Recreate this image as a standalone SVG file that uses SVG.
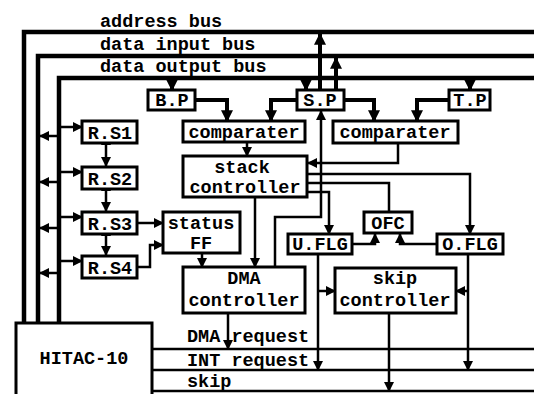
<svg xmlns="http://www.w3.org/2000/svg" width="534" height="394" viewBox="0 0 534 394">
<style>
.box{fill:#fff;stroke:#000;stroke-width:3}
.t{font-family:"Liberation Mono",monospace;font-weight:bold;font-size:18.5px;fill:#000}
.c{text-anchor:middle}
.bus{fill:none;stroke:#000;stroke-width:4.5}
.thk{fill:none;stroke:#000;stroke-width:4}
.thn{fill:none;stroke:#000;stroke-width:2.5}
</style>
<defs>
<marker id="a" viewBox="0 0 10 10" refX="9" refY="5" markerWidth="10" markerHeight="10" markerUnits="userSpaceOnUse" orient="auto"><path d="M0,0 L10,5 L0,10 Z" fill="#000"/></marker>
<marker id="as" viewBox="0 0 10 10" refX="1" refY="5" markerWidth="10" markerHeight="10" markerUnits="userSpaceOnUse" orient="auto-start-reverse"><path d="M0,0 L10,5 L0,10 Z" fill="#000"/></marker>
<marker id="ab" viewBox="0 0 10 10" refX="9" refY="5" markerWidth="12" markerHeight="12" markerUnits="userSpaceOnUse" orient="auto"><path d="M0,0 L10,5 L0,10 Z" fill="#000"/></marker>
</defs>
<rect width="534" height="394" fill="#fff"/>
<g id="labels">
<text class="t" x="100" y="27">address bus</text>
<text class="t" x="100" y="50">data input bus</text>
<text class="t" x="100" y="72">data output bus</text>
<text class="t" x="187" y="342">DMA request</text>
<text class="t" x="187" y="366">INT request</text>
<text class="t" x="187" y="387">skip</text>
</g>
<g id="connectors">
<path class="bus" d="M24,323 V32 H534"/>
<path class="bus" d="M38,323 V56 H534"/>
<path class="bus" d="M59,323 V78 H534"/>
<path class="thk" d="M172,78 V90" marker-end="url(#ab)"/>
<path class="thk" d="M306,78 V90" marker-end="url(#ab)"/>
<path class="thk" d="M470,78 V90" marker-end="url(#ab)"/>
<path class="thk" d="M320,90 V34" marker-end="url(#ab)"/>
<path class="thk" d="M336,90 V58" marker-end="url(#ab)"/>
<path class="thk" d="M195,100 H227 V121" marker-end="url(#ab)"/>
<path class="thk" d="M297,100 H271 V121" marker-end="url(#ab)"/>
<path class="thk" d="M344,100 H374 V121" marker-end="url(#ab)"/>
<path class="thk" d="M449,100 H417 V121" marker-end="url(#ab)"/>
<path class="thn" d="M247,142 V156" marker-end="url(#a)"/>
<path class="thn" d="M398,143 V163 H308" marker-end="url(#a)"/>
<path class="thn" d="M308,174 H470 V234" marker-end="url(#a)"/>
<path class="thn" d="M308,183 H389 V212"/>
<path class="thn" d="M308,192 H329 V234" marker-end="url(#a)"/>
<path class="thn" d="M275,267 V217 H321 V111" marker-end="url(#a)"/>
<path class="thn" d="M255,197 V267" marker-end="url(#a)"/>
<path class="thn" d="M202,253 V267" marker-end="url(#a)"/>
<path class="thn" d="M352,244 H375 V234" marker-end="url(#a)"/>
<path class="thn" d="M437,244 H400 V234" marker-end="url(#a)"/>
<path class="thn" d="M318,254 V370" marker-end="url(#a)"/>
<path class="thn" d="M318,291 H335" marker-end="url(#a)"/>
<path class="thn" d="M468,254 V370" marker-end="url(#a)"/>
<path class="thn" d="M468,291 H456" marker-end="url(#a)"/>
<path class="thn" d="M389,313 V391" marker-end="url(#a)"/>
<path class="thn" d="M228,313 V349" marker-end="url(#a)"/>
<path class="thn" d="M137,223 H163" marker-end="url(#a)"/>
<path class="thn" d="M137,267 H150 V245 H163" marker-end="url(#a)"/>
<path class="thn" d="M106,144 V166" marker-start="url(#as)" marker-end="url(#a)"/>
<path class="thn" d="M106,190 V211" marker-start="url(#as)" marker-end="url(#a)"/>
<path class="thn" d="M106,235 V255" marker-start="url(#as)" marker-end="url(#a)"/>
<path class="thn" d="M59,127 H82" marker-end="url(#a)"/>
<path class="thn" d="M59,136 H40" marker-end="url(#a)"/>
<path class="thn" d="M59,172 H82" marker-end="url(#a)"/>
<path class="thn" d="M59,182 H40" marker-end="url(#a)"/>
<path class="thn" d="M59,217 H82" marker-end="url(#a)"/>
<path class="thn" d="M59,228 H40" marker-end="url(#a)"/>
<path class="thn" d="M59,261 H82" marker-end="url(#a)"/>
<path class="thn" d="M59,273 H40" marker-end="url(#a)"/>
<path class="thn" d="M152,349 H534"/>
<path class="thn" d="M152,370 H534"/>
<path class="thn" d="M152,391 H534"/>
</g>
<g id="BP"><rect class="box" x="148" y="90" width="47" height="20"/><text class="t c" x="172" y="106">B.P</text></g>
<g id="SP"><rect class="box" x="297" y="90" width="47" height="20"/><text class="t c" x="320" y="106">S.P</text></g>
<g id="TP"><rect class="box" x="449" y="90" width="41" height="20"/><text class="t c" x="470" y="106">T.P</text></g>
<g id="comp1"><rect class="box" x="183" y="121" width="122" height="21"/><text class="t c" x="244" y="138">comparater</text></g>
<g id="comp2"><rect class="box" x="333" y="121" width="125" height="22"/><text class="t c" x="395" y="138">comparater</text></g>
<g id="stack"><rect class="box" x="183" y="156" width="124" height="41"/><text class="t c" x="242" y="173">stack</text><text class="t c" x="245" y="193">controller</text></g>
<g id="RS1"><rect class="box" x="82" y="121" width="55" height="22"/><text class="t c" x="110" y="139">R.S1</text></g>
<g id="RS2"><rect class="box" x="82" y="167" width="55" height="22"/><text class="t c" x="110" y="185">R.S2</text></g>
<g id="RS3"><rect class="box" x="82" y="212" width="55" height="22"/><text class="t c" x="110" y="230">R.S3</text></g>
<g id="RS4"><rect class="box" x="82" y="256" width="55" height="22"/><text class="t c" x="110" y="274">R.S4</text></g>
<g id="status"><rect class="box" x="163" y="212" width="77" height="41"/><text class="t c" x="201" y="229">status</text><text class="t c" x="201" y="249">FF</text></g>
<g id="UFLG"><rect class="box" x="288" y="234" width="64" height="20"/><text class="t c" x="320" y="250">U.FLG</text></g>
<g id="OFC"><rect class="box" x="364" y="212" width="48" height="21"/><text class="t c" x="388" y="229">OFC</text></g>
<g id="OFLG"><rect class="box" x="437" y="234" width="66" height="20"/><text class="t c" x="470" y="250">O.FLG</text></g>
<g id="DMA"><rect class="box" x="183" y="267" width="122" height="46"/><text class="t c" x="244" y="284">DMA</text><text class="t c" x="244" y="306">controller</text></g>
<g id="skip"><rect class="box" x="335" y="268" width="121" height="45"/><text class="t c" x="395" y="284">skip</text><text class="t c" x="395" y="306">controller</text></g>
<g id="HITAC"><rect class="box" x="16" y="323" width="136" height="80"/><text class="t c" x="84" y="364">HITAC-10</text></g>
</svg>
